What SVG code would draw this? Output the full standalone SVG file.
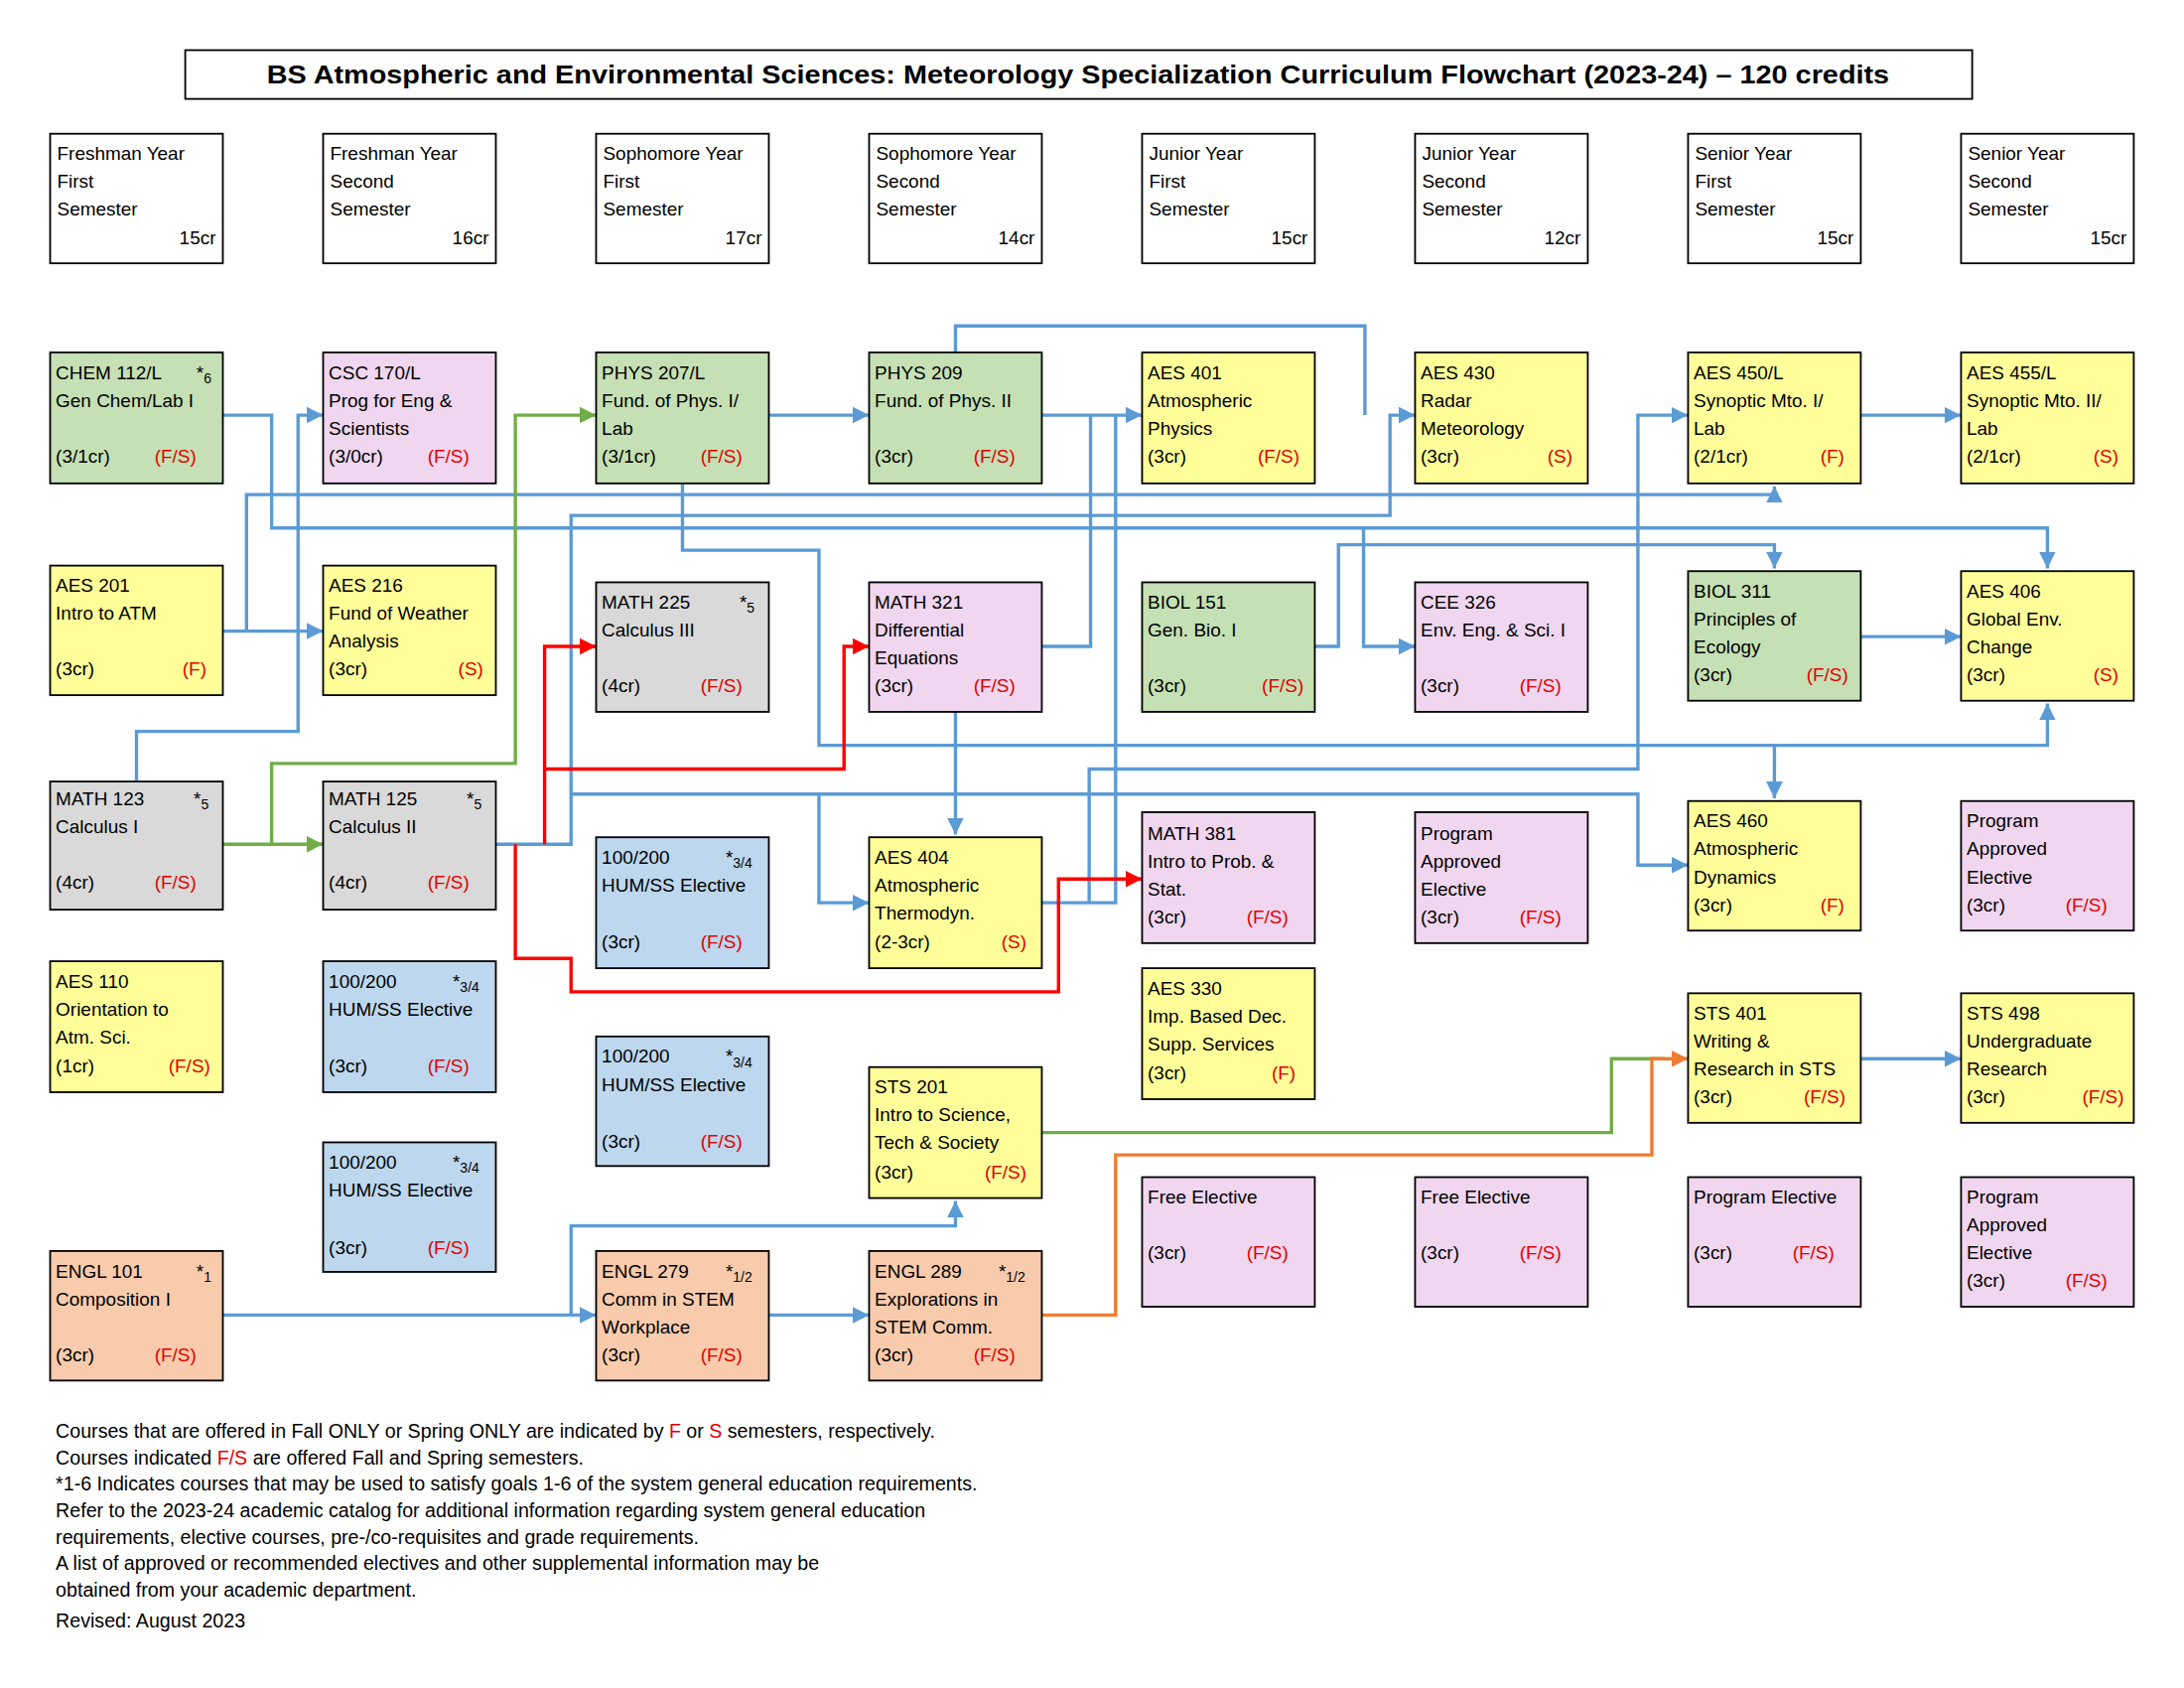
<svg xmlns="http://www.w3.org/2000/svg" width="2200" height="1700" viewBox="0 0 2200 1700">
<style>
.bx{stroke:#000;stroke-width:1.3}
.g{fill:#c5e0b4}.p{fill:#f0d6ef}.y{fill:#ffff99}.gr{fill:#d9d9d9}.b{fill:#bdd7ee}.o{fill:#f8cbad}.w{fill:#fff}
text{font-family:"Liberation Sans",Arial,sans-serif;font-size:13.5px;fill:#000}
.r{fill:#e00000}
.sup{font-size:10px}
.ft{font-size:14px}
.ln{fill:none;stroke-width:2.4;stroke-linejoin:miter}
.bl{stroke:#5b9bd5}.gl{stroke:#70ad47}.rl{stroke:#ff0000}.ol{stroke:#ed7d31}
</style>
<defs>
<marker id="ab" viewBox="0 0 10 10" refX="10" refY="5" markerWidth="12" markerHeight="13" markerUnits="userSpaceOnUse" orient="auto"><path d="M0,0L10,5L0,10z" fill="#5b9bd5"/></marker>
<marker id="ag" viewBox="0 0 10 10" refX="10" refY="5" markerWidth="12" markerHeight="13" markerUnits="userSpaceOnUse" orient="auto"><path d="M0,0L10,5L0,10z" fill="#70ad47"/></marker>
<marker id="ar" viewBox="0 0 10 10" refX="10" refY="5" markerWidth="12" markerHeight="13" markerUnits="userSpaceOnUse" orient="auto"><path d="M0,0L10,5L0,10z" fill="#ff0000"/></marker>
<marker id="ao" viewBox="0 0 10 10" refX="10" refY="5" markerWidth="12" markerHeight="13" markerUnits="userSpaceOnUse" orient="auto"><path d="M0,0L10,5L0,10z" fill="#ed7d31"/></marker>
</defs>
<rect width="2200" height="1700" fill="#fff"/>
<g transform="scale(1.403)">
<g id="title"><rect class="bx w" x="133" y="36" width="1283" height="35"/><text x="774" y="60" text-anchor="middle" style="font-weight:bold;font-size:18px" textLength="1165" lengthAdjust="spacingAndGlyphs">BS Atmospheric and Environmental Sciences: Meteorology Specialization Curriculum Flowchart (2023-24) – 120 credits</text></g>

<g id="h1"><rect class="bx w" x="36" y="96" width="124" height="93"/><text x="41" y="115">Freshman Year</text><text x="41" y="135">First</text><text x="41" y="155">Semester</text><text x="155" y="175" text-anchor="end">15cr</text></g>
<g id="h2"><rect class="bx w" x="232" y="96" width="124" height="93"/><text x="237" y="115">Freshman Year</text><text x="237" y="135">Second</text><text x="237" y="155">Semester</text><text x="351" y="175" text-anchor="end">16cr</text></g>
<g id="h3"><rect class="bx w" x="428" y="96" width="124" height="93"/><text x="433" y="115">Sophomore Year</text><text x="433" y="135">First</text><text x="433" y="155">Semester</text><text x="547" y="175" text-anchor="end">17cr</text></g>
<g id="h4"><rect class="bx w" x="624" y="96" width="124" height="93"/><text x="629" y="115">Sophomore Year</text><text x="629" y="135">Second</text><text x="629" y="155">Semester</text><text x="743" y="175" text-anchor="end">14cr</text></g>
<g id="h5"><rect class="bx w" x="820" y="96" width="124" height="93"/><text x="825" y="115">Junior Year</text><text x="825" y="135">First</text><text x="825" y="155">Semester</text><text x="939" y="175" text-anchor="end">15cr</text></g>
<g id="h6"><rect class="bx w" x="1016" y="96" width="124" height="93"/><text x="1021" y="115">Junior Year</text><text x="1021" y="135">Second</text><text x="1021" y="155">Semester</text><text x="1135" y="175" text-anchor="end">12cr</text></g>
<g id="h7"><rect class="bx w" x="1212" y="96" width="124" height="93"/><text x="1217" y="115">Senior Year</text><text x="1217" y="135">First</text><text x="1217" y="155">Semester</text><text x="1331" y="175" text-anchor="end">15cr</text></g>
<g id="h8"><rect class="bx w" x="1408" y="96" width="124" height="93"/><text x="1413" y="115">Senior Year</text><text x="1413" y="135">Second</text><text x="1413" y="155">Semester</text><text x="1527" y="175" text-anchor="end">15cr</text></g>

<g id="connectors">
<path class="ln bl" d="M160,298H195V379H1470V408" marker-end="url(#ab)"/>
<path class="ln bl" d="M979,379V464H1016" marker-end="url(#ab)"/>
<path class="ln bl" d="M160,453H232" marker-end="url(#ab)"/>
<path class="ln bl" d="M177,453V355H1274V349" marker-end="url(#ab)"/>
<path class="ln bl" d="M98,561V525H214V298H232" marker-end="url(#ab)"/>
<path class="ln bl" d="M552,298H624" marker-end="url(#ab)"/>
<path class="ln bl" d="M490,347V395H588V535H1470V505" marker-end="url(#ab)"/>
<path class="ln bl" d="M1274,535V573" marker-end="url(#ab)"/>
<path class="ln bl" d="M356,606H410V370H998V298H1016" marker-end="url(#ab)"/>
<path class="ln bl" d="M686,253V234H980V298"/>
<path class="ln bl" d="M410,570H588V648H624" marker-end="url(#ab)"/>
<path class="ln bl" d="M588,570H1176V621H1212" marker-end="url(#ab)"/>
<path class="ln bl" d="M748,298H820" marker-end="url(#ab)"/>
<path class="ln bl" d="M748,464H783V298"/>
<path class="ln bl" d="M748,648H801V298"/>
<path class="ln bl" d="M782,648V552H1176V298H1212" marker-end="url(#ab)"/>
<path class="ln bl" d="M686,511V599" marker-end="url(#ab)"/>
<path class="ln bl" d="M944,464H961V391H1274V408" marker-end="url(#ab)"/>
<path class="ln bl" d="M1336,457H1408" marker-end="url(#ab)"/>
<path class="ln bl" d="M1336,298H1408" marker-end="url(#ab)"/>
<path class="ln bl" d="M160,944H428" marker-end="url(#ab)"/>
<path class="ln bl" d="M410,944V880H686V862" marker-end="url(#ab)"/>
<path class="ln bl" d="M552,944H624" marker-end="url(#ab)"/>
<path class="ln bl" d="M1336,760H1408" marker-end="url(#ab)"/>
<path class="ln gl" d="M160,606H232" marker-end="url(#ag)"/>
<path class="ln gl" d="M195,606V548H370V298H428" marker-end="url(#ag)"/>
<path class="ln gl" d="M748,813H1157V760H1195"/>
<path class="ln ol" d="M748,944H801V829H1186V760H1212" marker-end="url(#ao)"/>
<path class="ln rl" d="M370,606V688H410V712H760V631H820" marker-end="url(#ar)"/>
<path class="ln rl" d="M391,606V464H428" marker-end="url(#ar)"/>
<path class="ln rl" d="M391,552H606V464H624" marker-end="url(#ar)"/>
</g>

<g id="CHEM112"><rect class="bx g" x="36" y="253" width="124" height="94"/><text x="40" y="272">CHEM 112/L</text><text x="141" y="272">*<tspan class="sup" dy="3">6</tspan></text><text x="40" y="292">Gen Chem/Lab I</text><text x="40" y="332">(3/1cr)</text><text class="r" x="111" y="332">(F/S)</text></g>
<g id="CSC170"><rect class="bx p" x="232" y="253" width="124" height="94"/><text x="236" y="272">CSC 170/L</text><text x="236" y="292">Prog for Eng &amp;</text><text x="236" y="312">Scientists</text><text x="236" y="332">(3/0cr)</text><text class="r" x="307" y="332">(F/S)</text></g>
<g id="PHYS207"><rect class="bx g" x="428" y="253" width="124" height="94"/><text x="432" y="272">PHYS 207/L</text><text x="432" y="292">Fund. of Phys. I/</text><text x="432" y="312">Lab</text><text x="432" y="332">(3/1cr)</text><text class="r" x="503" y="332">(F/S)</text></g>
<g id="PHYS209"><rect class="bx g" x="624" y="253" width="124" height="94"/><text x="628" y="272">PHYS 209</text><text x="628" y="292">Fund. of Phys. II</text><text x="628" y="332">(3cr)</text><text class="r" x="699" y="332">(F/S)</text></g>
<g id="AES401"><rect class="bx y" x="820" y="253" width="124" height="94"/><text x="824" y="272">AES 401</text><text x="824" y="292">Atmospheric</text><text x="824" y="312">Physics</text><text x="824" y="332">(3cr)</text><text class="r" x="903" y="332">(F/S)</text></g>
<g id="AES430"><rect class="bx y" x="1016" y="253" width="124" height="94"/><text x="1020" y="272">AES 430</text><text x="1020" y="292">Radar</text><text x="1020" y="312">Meteorology</text><text x="1020" y="332">(3cr)</text><text class="r" x="1111" y="332">(S)</text></g>
<g id="AES450"><rect class="bx y" x="1212" y="253" width="124" height="94"/><text x="1216" y="272">AES 450/L</text><text x="1216" y="292">Synoptic Mto. I/</text><text x="1216" y="312">Lab</text><text x="1216" y="332">(2/1cr)</text><text class="r" x="1307" y="332">(F)</text></g>
<g id="AES455"><rect class="bx y" x="1408" y="253" width="124" height="94"/><text x="1412" y="272">AES 455/L</text><text x="1412" y="292">Synoptic Mto. II/</text><text x="1412" y="312">Lab</text><text x="1412" y="332">(2/1cr)</text><text class="r" x="1503" y="332">(S)</text></g>

<g id="AES201"><rect class="bx y" x="36" y="406" width="124" height="93"/><text x="40" y="425">AES 201</text><text x="40" y="445">Intro to ATM</text><text x="40" y="485">(3cr)</text><text class="r" x="131" y="485">(F)</text></g>
<g id="AES216"><rect class="bx y" x="232" y="406" width="124" height="93"/><text x="236" y="425">AES 216</text><text x="236" y="445">Fund of Weather</text><text x="236" y="465">Analysis</text><text x="236" y="485">(3cr)</text><text class="r" x="329" y="485">(S)</text></g>
<g id="MATH225"><rect class="bx gr" x="428" y="418" width="124" height="93"/><text x="432" y="437">MATH 225</text><text x="531" y="437">*<tspan class="sup" dy="3">5</tspan></text><text x="432" y="457">Calculus III</text><text x="432" y="497">(4cr)</text><text class="r" x="503" y="497">(F/S)</text></g>
<g id="MATH321"><rect class="bx p" x="624" y="418" width="124" height="93"/><text x="628" y="437">MATH 321</text><text x="628" y="457">Differential</text><text x="628" y="477">Equations</text><text x="628" y="497">(3cr)</text><text class="r" x="699" y="497">(F/S)</text></g>
<g id="BIOL151"><rect class="bx g" x="820" y="418" width="124" height="93"/><text x="824" y="437">BIOL 151</text><text x="824" y="457">Gen. Bio. I</text><text x="824" y="497">(3cr)</text><text class="r" x="906" y="497">(F/S)</text></g>
<g id="CEE326"><rect class="bx p" x="1016" y="418" width="124" height="93"/><text x="1020" y="437">CEE 326</text><text x="1020" y="457">Env. Eng. &amp; Sci. I</text><text x="1020" y="497">(3cr)</text><text class="r" x="1091" y="497">(F/S)</text></g>
<g id="BIOL311"><rect class="bx g" x="1212" y="410" width="124" height="93"/><text x="1216" y="429">BIOL 311</text><text x="1216" y="449">Principles of</text><text x="1216" y="469">Ecology</text><text x="1216" y="489">(3cr)</text><text class="r" x="1297" y="489">(F/S)</text></g>
<g id="AES406"><rect class="bx y" x="1408" y="410" width="124" height="93"/><text x="1412" y="429">AES 406</text><text x="1412" y="449">Global Env.</text><text x="1412" y="469">Change</text><text x="1412" y="489">(3cr)</text><text class="r" x="1503" y="489">(S)</text></g>

<g id="MATH123"><rect class="bx gr" x="36" y="561" width="124" height="92"/><text x="40" y="578">MATH 123</text><text x="139" y="578">*<tspan class="sup" dy="3">5</tspan></text><text x="40" y="598">Calculus I</text><text x="40" y="638">(4cr)</text><text class="r" x="111" y="638">(F/S)</text></g>
<g id="MATH125"><rect class="bx gr" x="232" y="561" width="124" height="92"/><text x="236" y="578">MATH 125</text><text x="335" y="578">*<tspan class="sup" dy="3">5</tspan></text><text x="236" y="598">Calculus II</text><text x="236" y="638">(4cr)</text><text class="r" x="307" y="638">(F/S)</text></g>
<g id="HUM1"><rect class="bx b" x="428" y="601" width="124" height="94"/><text x="432" y="620">100/200</text><text x="521" y="620">*<tspan class="sup" dy="3">3/4</tspan></text><text x="432" y="640">HUM/SS Elective</text><text x="432" y="681">(3cr)</text><text class="r" x="503" y="681">(F/S)</text></g>
<g id="AES404"><rect class="bx y" x="624" y="601" width="124" height="94"/><text x="628" y="620">AES 404</text><text x="628" y="640">Atmospheric</text><text x="628" y="660">Thermodyn.</text><text x="628" y="681">(2-3cr)</text><text class="r" x="719" y="681">(S)</text></g>
<g id="MATH381"><rect class="bx p" x="820" y="583" width="124" height="94"/><text x="824" y="603">MATH 381</text><text x="824" y="623">Intro to Prob. &amp;</text><text x="824" y="643">Stat.</text><text x="824" y="663">(3cr)</text><text class="r" x="895" y="663">(F/S)</text></g>
<g id="PAE1"><rect class="bx p" x="1016" y="583" width="124" height="94"/><text x="1020" y="603">Program</text><text x="1020" y="623">Approved</text><text x="1020" y="643">Elective</text><text x="1020" y="663">(3cr)</text><text class="r" x="1091" y="663">(F/S)</text></g>
<g id="AES460"><rect class="bx y" x="1212" y="575" width="124" height="93"/><text x="1216" y="594">AES 460</text><text x="1216" y="614">Atmospheric</text><text x="1216" y="634">Dynamics</text><text x="1216" y="654">(3cr)</text><text class="r" x="1307" y="654">(F)</text></g>
<g id="PAE2"><rect class="bx p" x="1408" y="575" width="124" height="93"/><text x="1412" y="594">Program</text><text x="1412" y="614">Approved</text><text x="1412" y="634">Elective</text><text x="1412" y="654">(3cr)</text><text class="r" x="1483" y="654">(F/S)</text></g>

<g id="AES110"><rect class="bx y" x="36" y="690" width="124" height="94"/><text x="40" y="709">AES 110</text><text x="40" y="729">Orientation to</text><text x="40" y="749">Atm. Sci.</text><text x="40" y="770">(1cr)</text><text class="r" x="121" y="770">(F/S)</text></g>
<g id="HUM2"><rect class="bx b" x="232" y="690" width="124" height="94"/><text x="236" y="709">100/200</text><text x="325" y="709">*<tspan class="sup" dy="3">3/4</tspan></text><text x="236" y="729">HUM/SS Elective</text><text x="236" y="770">(3cr)</text><text class="r" x="307" y="770">(F/S)</text></g>
<g id="HUM3"><rect class="bx b" x="428" y="744" width="124" height="93"/><text x="432" y="763">100/200</text><text x="521" y="763">*<tspan class="sup" dy="3">3/4</tspan></text><text x="432" y="783">HUM/SS Elective</text><text x="432" y="824">(3cr)</text><text class="r" x="503" y="824">(F/S)</text></g>
<g id="STS201"><rect class="bx y" x="624" y="766" width="124" height="94"/><text x="628" y="785">STS 201</text><text x="628" y="805">Intro to Science,</text><text x="628" y="825">Tech &amp; Society</text><text x="628" y="846">(3cr)</text><text class="r" x="707" y="846">(F/S)</text></g>
<g id="AES330"><rect class="bx y" x="820" y="695" width="124" height="94"/><text x="824" y="714">AES 330</text><text x="824" y="734">Imp. Based Dec.</text><text x="824" y="754">Supp. Services</text><text x="824" y="775">(3cr)</text><text class="r" x="913" y="775">(F)</text></g>
<g id="STS401"><rect class="bx y" x="1212" y="713" width="124" height="93"/><text x="1216" y="732">STS 401</text><text x="1216" y="752">Writing &amp;</text><text x="1216" y="772">Research in STS</text><text x="1216" y="792">(3cr)</text><text class="r" x="1295" y="792">(F/S)</text></g>
<g id="STS498"><rect class="bx y" x="1408" y="713" width="124" height="93"/><text x="1412" y="732">STS 498</text><text x="1412" y="752">Undergraduate</text><text x="1412" y="772">Research</text><text x="1412" y="792">(3cr)</text><text class="r" x="1495" y="792">(F/S)</text></g>
<g id="HUM4"><rect class="bx b" x="232" y="820" width="124" height="93"/><text x="236" y="839">100/200</text><text x="325" y="839">*<tspan class="sup" dy="3">3/4</tspan></text><text x="236" y="859">HUM/SS Elective</text><text x="236" y="900">(3cr)</text><text class="r" x="307" y="900">(F/S)</text></g>

<g id="ENGL101"><rect class="bx o" x="36" y="898" width="124" height="93"/><text x="40" y="917">ENGL 101</text><text x="141" y="917">*<tspan class="sup" dy="3">1</tspan></text><text x="40" y="937">Composition I</text><text x="40" y="977">(3cr)</text><text class="r" x="111" y="977">(F/S)</text></g>
<g id="ENGL279"><rect class="bx o" x="428" y="898" width="124" height="93"/><text x="432" y="917">ENGL 279</text><text x="521" y="917">*<tspan class="sup" dy="3">1/2</tspan></text><text x="432" y="937">Comm in STEM</text><text x="432" y="957">Workplace</text><text x="432" y="977">(3cr)</text><text class="r" x="503" y="977">(F/S)</text></g>
<g id="ENGL289"><rect class="bx o" x="624" y="898" width="124" height="93"/><text x="628" y="917">ENGL 289</text><text x="717" y="917">*<tspan class="sup" dy="3">1/2</tspan></text><text x="628" y="937">Explorations in</text><text x="628" y="957">STEM Comm.</text><text x="628" y="977">(3cr)</text><text class="r" x="699" y="977">(F/S)</text></g>
<g id="FE1"><rect class="bx p" x="820" y="845" width="124" height="93"/><text x="824" y="864">Free Elective</text><text x="824" y="904">(3cr)</text><text class="r" x="895" y="904">(F/S)</text></g>
<g id="FE2"><rect class="bx p" x="1016" y="845" width="124" height="93"/><text x="1020" y="864">Free Elective</text><text x="1020" y="904">(3cr)</text><text class="r" x="1091" y="904">(F/S)</text></g>
<g id="PE"><rect class="bx p" x="1212" y="845" width="124" height="93"/><text x="1216" y="864">Program Elective</text><text x="1216" y="904">(3cr)</text><text class="r" x="1287" y="904">(F/S)</text></g>
<g id="PAE3"><rect class="bx p" x="1408" y="845" width="124" height="93"/><text x="1412" y="864">Program</text><text x="1412" y="884">Approved</text><text x="1412" y="904">Elective</text><text x="1412" y="924">(3cr)</text><text class="r" x="1483" y="924">(F/S)</text></g>

<g id="notes">
<text class="ft" x="40" y="1032">Courses that are offered in Fall ONLY or Spring ONLY are indicated by <tspan class="r">F</tspan> or <tspan class="r">S</tspan> semesters, respectively.</text>
<text class="ft" x="40" y="1051">Courses indicated <tspan class="r">F/S</tspan> are offered Fall and Spring semesters.</text>
<text class="ft" x="40" y="1070">*1-6 Indicates courses that may be used to satisfy goals 1-6 of the system general education requirements.</text>
<text class="ft" x="40" y="1089">Refer to the 2023-24 academic catalog for additional information regarding system general education</text>
<text class="ft" x="40" y="1108">requirements, elective courses, pre-/co-requisites and grade requirements.</text>
<text class="ft" x="40" y="1127">A list of approved or recommended electives and other supplemental information may be</text>
<text class="ft" x="40" y="1146">obtained from your academic department.</text>
<text class="ft" x="40" y="1168">Revised: August 2023</text>
</g>
</g>
</svg>
